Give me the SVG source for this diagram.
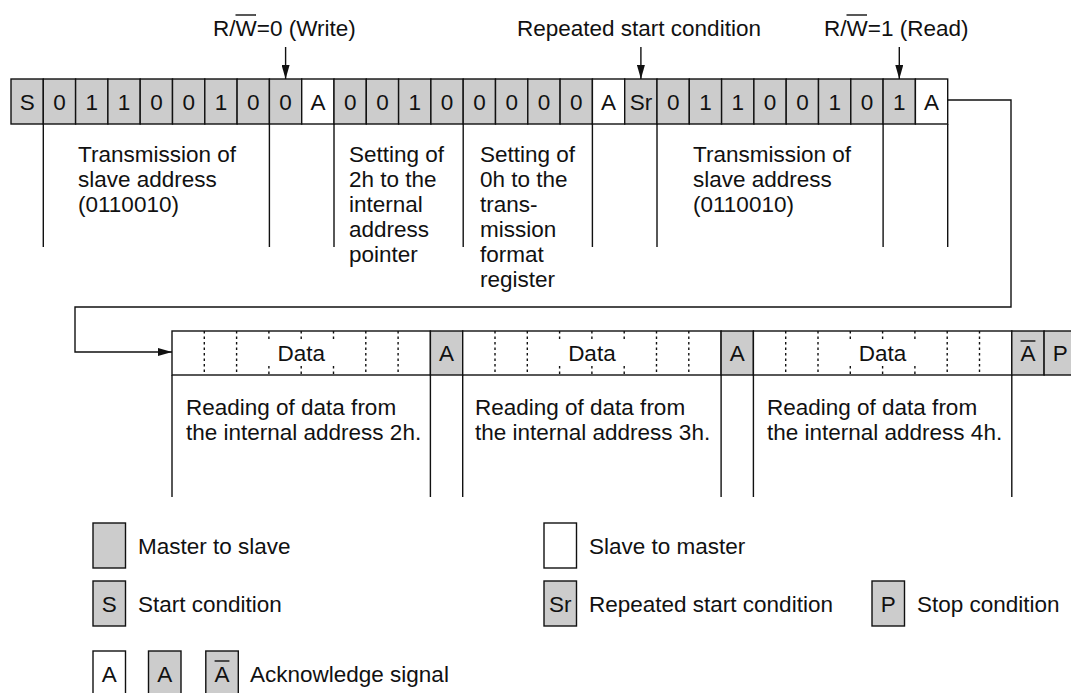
<svg xmlns="http://www.w3.org/2000/svg" width="1071" height="693" viewBox="0 0 1071 693">
<style>
text{font-family:"Liberation Sans",Arial,sans-serif;font-size:22.5px;fill:#111}
.c{text-anchor:middle}
.g{fill:#cccccc;stroke:#111;stroke-width:1.4}
.w{fill:#ffffff;stroke:#111;stroke-width:1.4}
.ln{stroke:#111;stroke-width:1.4;fill:none}
.dt{stroke:#111;stroke-width:1.4;stroke-dasharray:2.5 3;fill:none}
</style>
<defs>
<marker id="ah" markerUnits="userSpaceOnUse" markerWidth="14" markerHeight="8" refX="14" refY="4" orient="auto">
<path d="M0,0 L14,4 L0,8 z" fill="#111"/>
</marker>
</defs>
<rect width="1071" height="693" fill="#fff"/>

<g id="labels-top">
<text x="213" y="36">R/W=0 (Write)</text>
<line class="ln" x1="235.5" y1="15" x2="256" y2="15"/>
<text x="517" y="36">Repeated start condition</text>
<text x="824" y="36">R/W=1 (Read)</text>
<line class="ln" x1="846.5" y1="15" x2="867" y2="15"/>
</g>

<g id="row1">
<rect class="g" x="11" y="79" width="32.3" height="45"/><text class="c" x="27.2" y="109.5">S</text>
<rect class="g" x="43.3" y="79" width="32.3" height="45"/><text class="c" x="59.5" y="109.5">0</text>
<rect class="g" x="75.6" y="79" width="32.3" height="45"/><text class="c" x="91.8" y="109.5">1</text>
<rect class="g" x="107.9" y="79" width="32.3" height="45"/><text class="c" x="124.1" y="109.5">1</text>
<rect class="g" x="140.2" y="79" width="32.3" height="45"/><text class="c" x="156.4" y="109.5">0</text>
<rect class="g" x="172.5" y="79" width="32.3" height="45"/><text class="c" x="188.7" y="109.5">0</text>
<rect class="g" x="204.8" y="79" width="32.3" height="45"/><text class="c" x="221" y="109.5">1</text>
<rect class="g" x="237.1" y="79" width="32.3" height="45"/><text class="c" x="253.3" y="109.5">0</text>
<rect class="g" x="269.4" y="79" width="32.3" height="45"/><text class="c" x="285.6" y="109.5">0</text>
<rect class="w" x="301.7" y="79" width="32.3" height="45"/><text class="c" x="317.9" y="109.5">A</text>
<rect class="g" x="334" y="79" width="32.3" height="45"/><text class="c" x="350.2" y="109.5">0</text>
<rect class="g" x="366.3" y="79" width="32.3" height="45"/><text class="c" x="382.5" y="109.5">0</text>
<rect class="g" x="398.6" y="79" width="32.3" height="45"/><text class="c" x="414.8" y="109.5">1</text>
<rect class="g" x="430.9" y="79" width="32.3" height="45"/><text class="c" x="447.1" y="109.5">0</text>
<rect class="g" x="463.2" y="79" width="32.3" height="45"/><text class="c" x="479.4" y="109.5">0</text>
<rect class="g" x="495.5" y="79" width="32.3" height="45"/><text class="c" x="511.7" y="109.5">0</text>
<rect class="g" x="527.8" y="79" width="32.3" height="45"/><text class="c" x="544" y="109.5">0</text>
<rect class="g" x="560.1" y="79" width="32.3" height="45"/><text class="c" x="576.3" y="109.5">0</text>
<rect class="w" x="592.4" y="79" width="32.3" height="45"/><text class="c" x="608.6" y="109.5">A</text>
<rect class="g" x="624.7" y="79" width="32.3" height="45"/><text class="c" x="640.9" y="109.5">Sr</text>
<rect class="g" x="657" y="79" width="32.3" height="45"/><text class="c" x="673.2" y="109.5">0</text>
<rect class="g" x="689.3" y="79" width="32.3" height="45"/><text class="c" x="705.5" y="109.5">1</text>
<rect class="g" x="721.6" y="79" width="32.3" height="45"/><text class="c" x="737.8" y="109.5">1</text>
<rect class="g" x="753.9" y="79" width="32.3" height="45"/><text class="c" x="770.1" y="109.5">0</text>
<rect class="g" x="786.2" y="79" width="32.3" height="45"/><text class="c" x="802.4" y="109.5">0</text>
<rect class="g" x="818.5" y="79" width="32.3" height="45"/><text class="c" x="834.7" y="109.5">1</text>
<rect class="g" x="850.8" y="79" width="32.3" height="45"/><text class="c" x="867" y="109.5">0</text>
<rect class="g" x="883.1" y="79" width="32.3" height="45"/><text class="c" x="899.3" y="109.5">1</text>
<rect class="w" x="915.4" y="79" width="32.3" height="45"/><text class="c" x="931.6" y="109.5">A</text>
</g>

<g id="row1-notes">
<path class="ln" d="M43.3 124V247M269.4 124V247M334 124V247M463.2 124V247M592.4 124V247M657 124V247M883.1 124V247M947.7 124V247"/>
<text x="78" y="162">Transmission of</text>
<text x="78" y="187">slave address</text>
<text x="78" y="212">(0110010)</text>
<text x="349" y="162">Setting of</text>
<text x="349" y="187">2h to the</text>
<text x="349" y="212">internal</text>
<text x="349" y="237">address</text>
<text x="349" y="262">pointer</text>
<text x="480" y="162">Setting of</text>
<text x="480" y="187">0h to the</text>
<text x="480" y="212">trans-</text>
<text x="480" y="237">mission</text>
<text x="480" y="262">format</text>
<text x="480" y="287">register</text>
<text x="693" y="162">Transmission of</text>
<text x="693" y="187">slave address</text>
<text x="693" y="212">(0110010)</text>
</g>

<g id="row2">
<rect class="w" x="172" y="331" width="258.4" height="44"/>
<path class="dt" d="M204.3 331V375M236.6 331V375M268.9 331V340M268.9 366V375M301.2 331V340M301.2 366V375M333.5 331V340M333.5 366V375M365.8 331V375M398.1 331V375"/>
<text class="c" x="301.2" y="361">Data</text>
<rect class="g" x="430.4" y="331" width="32.3" height="44"/><text class="c" x="446.6" y="361">A</text>
<rect class="w" x="462.7" y="331" width="258.4" height="44"/>
<path class="dt" d="M495 331V375M527.3 331V375M559.6 331V340M559.6 366V375M591.9 331V340M591.9 366V375M624.2 331V340M624.2 366V375M656.5 331V375M688.8 331V375"/>
<text class="c" x="591.9" y="361">Data</text>
<rect class="g" x="721.1" y="331" width="32.3" height="44"/><text class="c" x="737.3" y="361">A</text>
<rect class="w" x="753.4" y="331" width="258.4" height="44"/>
<path class="dt" d="M785.7 331V375M818 331V375M850.3 331V340M850.3 366V375M882.6 331V340M882.6 366V375M914.9 331V340M914.9 366V375M947.2 331V375M979.5 331V375"/>
<text class="c" x="882.6" y="361">Data</text>
<rect class="g" x="1011.8" y="331" width="32.3" height="44"/><text class="c" x="1028" y="361">A</text>
<line class="ln" x1="1020.6" y1="341" x2="1035.4" y2="341"/>
<rect class="g" x="1044.1" y="331" width="32.3" height="44"/><text class="c" x="1060.2" y="361">P</text>
</g>

<g id="row2-notes">
<path class="ln" d="M172 375V497M430.4 375V497M462.7 375V497M721.1 375V497M753.4 375V497M1011.8 375V497"/>
<text x="186" y="415">Reading of data from</text>
<text x="186" y="440">the internal address 2h.</text>
<text x="475" y="415">Reading of data from</text>
<text x="475" y="440">the internal address 3h.</text>
<text x="767" y="415">Reading of data from</text>
<text x="767" y="440">the internal address 4h.</text>
</g>

<g id="connectors">
<line class="ln" x1="285.6" y1="47" x2="285.6" y2="79" marker-end="url(#ah)"/>
<line class="ln" x1="640.9" y1="47" x2="640.9" y2="79" marker-end="url(#ah)"/>
<line class="ln" x1="899.3" y1="47" x2="899.3" y2="79" marker-end="url(#ah)"/>
<path class="ln" d="M947.7 100H1011V307H75V352H172" marker-end="url(#ah)"/>
</g>

<g id="legend">
<rect class="g" x="93" y="523" width="32.5" height="45"/>
<text x="138" y="553.5">Master to slave</text>
<rect class="w" x="544" y="523" width="32.5" height="45"/>
<text x="589" y="553.5">Slave to master</text>
<rect class="g" x="93" y="581" width="32.5" height="45"/><text class="c" x="109.2" y="611.5">S</text>
<text x="138" y="611.5">Start condition</text>
<rect class="g" x="544" y="581" width="32.5" height="45"/><text class="c" x="560.2" y="611.5">Sr</text>
<text x="589" y="611.5">Repeated start condition</text>
<rect class="g" x="872" y="581" width="32.5" height="45"/><text class="c" x="888.2" y="611.5">P</text>
<text x="917" y="611.5">Stop condition</text>
<rect class="w" x="93" y="651" width="32.5" height="45"/><text class="c" x="109.2" y="681.5">A</text>
<rect class="g" x="148.5" y="651" width="32.5" height="45"/><text class="c" x="164.7" y="681.5">A</text>
<rect class="g" x="205.8" y="651" width="32.5" height="45"/><text class="c" x="222" y="681.5">A</text>
<line class="ln" x1="214.6" y1="661" x2="229.4" y2="661"/>
<text x="250" y="681.5">Acknowledge signal</text>
</g>
</svg>
